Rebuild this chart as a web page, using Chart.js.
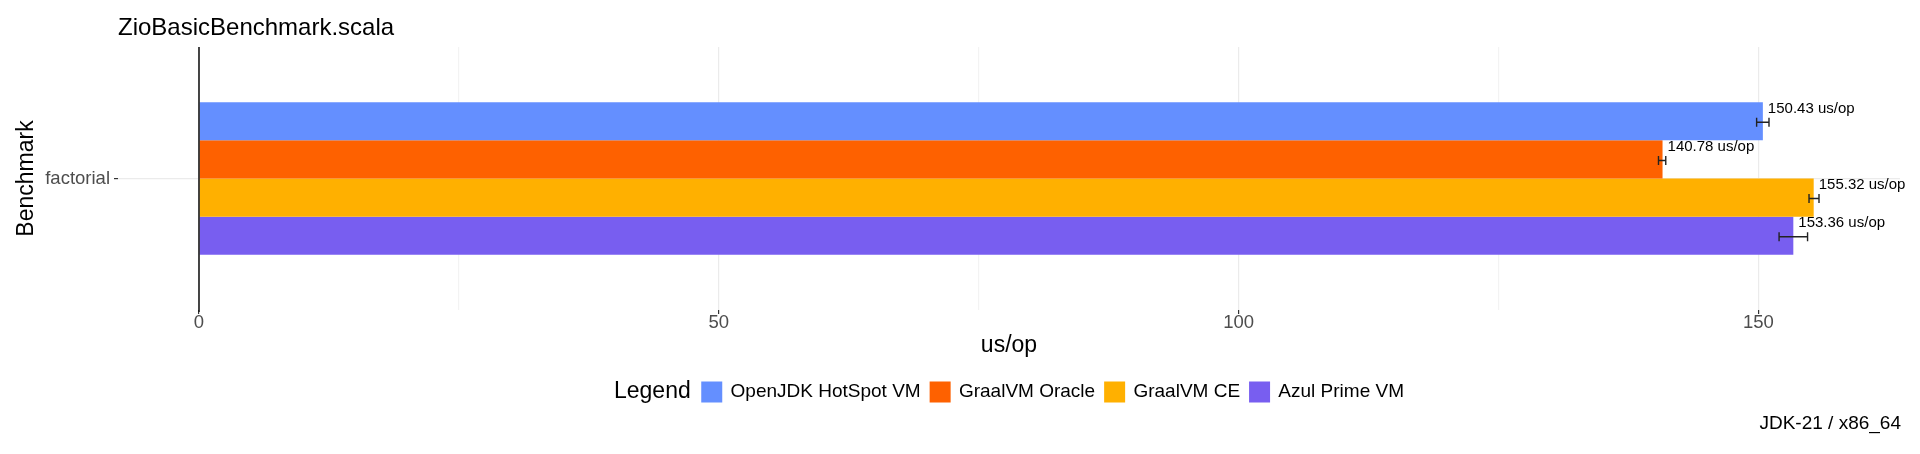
<!DOCTYPE html>
<html>
<head>
<meta charset="utf-8">
<script src="https://cdn.jsdelivr.net/npm/chart.js@4.4.0/dist/chart.umd.min.js"></script>
<style>
html,body{margin:0;padding:0;background:#ffffff;}
#wrap{width:1920px;height:454px;position:relative;}
</style>
</head>
<body>
<div id="wrap"><canvas id="c"></canvas></div>
<script>
const chartTitle = 'ZioBasicBenchmark.scala';
const captionText = 'JDK-21 / x86_64';
const legendTitle = 'Legend';
const xAxisTitle = 'us/op';
const yAxisTitle = 'Benchmark';
const unitSuffix = 'us/op';
const categories = ['factorial'];
const seriesNames = ['OpenJDK HotSpot VM', 'GraalVM Oracle', 'GraalVM CE', 'Azul Prime VM'];
const seriesColors = ['#648FFF', '#FE6100', '#FFB000', '#785EF0'];
const meanValues = [150.43, 140.78, 155.32, 153.36];
const errorLow = [149.83, 140.39, 154.87, 151.99];
const errorHigh = [151.02, 141.09, 155.83, 154.73];
const majorTicks = [0, 50, 100, 150];
const minorTicks = [25, 75, 125];

const FONT = '"Liberation Sans", Arial, Helvetica, sans-serif';
Chart.defaults.font.family = FONT;

const dataMax = Math.max(...errorHigh);
const expand = dataMax * 0.05;
const allTicks = [...majorTicks, ...minorTicks].sort((a, b) => a - b);

const datasets = seriesNames.map((name, i) => ({
  label: name,
  data: [meanValues[i]],
  backgroundColor: seriesColors[i],
  borderWidth: 0,
  categoryPercentage: 0.58,
  barPercentage: 1.0
}));

const overlayPlugin = {
  id: 'overlay',
  afterDatasetsDraw(chart) {
    const ctx = chart.ctx;
    const xs = chart.scales.x;
    const area = chart.chartArea;
    ctx.save();
    const x0 = xs.getPixelForValue(0);
    ctx.strokeStyle = '#1a1a1a';
    ctx.lineWidth = 1.6;
    ctx.beginPath();
    ctx.moveTo(x0, area.top);
    ctx.lineTo(x0, area.bottom + 2);
    ctx.stroke();
    chart.data.datasets.forEach((ds, i) => {
      const meta = chart.getDatasetMeta(i);
      meta.data.forEach((bar) => {
        const y = bar.y + 1;
        const xl = xs.getPixelForValue(errorLow[i]);
        const xh = xs.getPixelForValue(errorHigh[i]);
        ctx.strokeStyle = '#222222';
        ctx.lineWidth = 1.4;
        ctx.beginPath();
        ctx.moveTo(xl, y); ctx.lineTo(xh, y);
        ctx.moveTo(xl, y - 4.5); ctx.lineTo(xl, y + 4.5);
        ctx.moveTo(xh, y - 4.5); ctx.lineTo(xh, y + 4.5);
        ctx.stroke();
        ctx.fillStyle = '#000000';
        ctx.font = '15px ' + FONT;
        ctx.textAlign = 'left';
        ctx.textBaseline = 'middle';
        ctx.fillText(meanValues[i].toFixed(2) + ' ' + unitSuffix, bar.x + 5, bar.y - 12.5);
      });
    });
    ctx.restore();
  },
  afterDraw(chart) {
    const ctx = chart.ctx;
    const area = chart.chartArea;
    ctx.save();
    ctx.fillStyle = '#000000';
    ctx.font = '24px ' + FONT;
    ctx.textAlign = 'left';
    ctx.textBaseline = 'middle';
    ctx.fillText(chartTitle, area.left, 28);
    const titleFont = '23px ' + FONT;
    const itemFont = '19px ' + FONT;
    const sw = 21, gapTitle = 10.5, gapSwText = 8.3, gapItem = 9;
    ctx.font = titleFont;
    const tW = ctx.measureText(legendTitle).width;
    ctx.font = itemFont;
    const widths = seriesNames.map(n => ctx.measureText(n).width);
    let total = tW + gapTitle;
    widths.forEach((w, i) => { total += sw + gapSwText + w + (i < widths.length - 1 ? gapItem : 0); });
    let x = (area.left + area.right) / 2 - total / 2;
    const ly = 392;
    ctx.font = titleFont;
    ctx.fillStyle = '#000000';
    ctx.fillText(legendTitle, x, ly);
    x += tW + gapTitle;
    seriesNames.forEach((n, i) => {
      ctx.fillStyle = seriesColors[i];
      ctx.fillRect(x, ly - 10.5, sw, sw);
      x += sw + gapSwText;
      ctx.font = itemFont;
      ctx.fillStyle = '#000000';
      ctx.fillText(n, x, ly);
      x += widths[i] + gapItem;
    });
    ctx.font = '19px ' + FONT;
    ctx.textAlign = 'right';
    ctx.fillStyle = '#000000';
    ctx.fillText(captionText, 1901, 424);
    ctx.restore();
  }
};

new Chart(document.getElementById('c'), {
  type: 'bar',
  data: { labels: categories, datasets: datasets },
  plugins: [overlayPlugin],
  options: {
    indexAxis: 'y',
    responsive: true,
    maintainAspectRatio: false,
    animation: false,
    layout: { padding: { top: 47, right: 20, bottom: 94.7, left: 0 } },
    plugins: {
      legend: { display: false },
      title: { display: false },
      tooltip: { enabled: false }
    },
    scales: {
      x: {
        type: 'linear',
        min: -expand,
        max: dataMax + expand,
        afterBuildTicks: (s) => { s.ticks = allTicks.map(v => ({ value: v })); },
        afterFit: (s) => { s.height = 454 - 94.7 - 310; },
        ticks: {
          autoSkip: false,
          maxRotation: 0,
          padding: 0,
          color: '#4d4d4d',
          font: { size: 18.5, lineHeight: 1.0 },
          callback: (v) => majorTicks.includes(v) ? String(v) : ''
        },
        grid: {
          color: (c) => (c.tick && majorTicks.includes(c.tick.value)) ? '#ebebeb' : '#f3f3f3',
          tickColor: (c) => (c.tick && majorTicks.includes(c.tick.value)) ? '#333333' : 'rgba(0,0,0,0)',
          tickLength: 4,
          lineWidth: 1.2
        },
        border: { display: false },
        title: { display: true, text: xAxisTitle, color: '#000000', font: { size: 23 }, padding: 0 }
      },
      y: {
        type: 'category',
        afterFit: (s) => { s.width = 118; },
        ticks: { color: '#4d4d4d', font: { size: 18.5 }, padding: 4 },
        grid: { offset: false, color: '#ebebeb', tickColor: '#333333', tickLength: 4, lineWidth: 1.2 },
        border: { display: false },
        title: { display: true, text: yAxisTitle, color: '#000000', font: { size: 23 }, padding: { top: 13, bottom: 0 } }
      }
    }
  }
});
</script>
</body>
</html>
